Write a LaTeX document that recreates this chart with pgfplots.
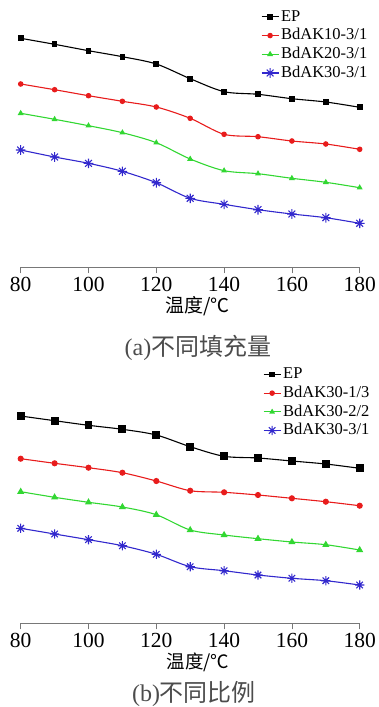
\documentclass[border=0pt]{standalone}
\usepackage{pgfplots}
\pgfplotsset{compat=1.18}
\usepackage{fontspec}
\setmainfont{Liberation Serif}
\newfontfamily\cjk{Noto Sans CJK SC}
\definecolor{cred}{RGB}{232,28,28}
\definecolor{cgreen}{RGB}{50,215,50}
\definecolor{cblue}{RGB}{50,40,205}
\definecolor{axgray}{RGB}{120,120,120}
\pgfdeclareplotmark{ast8}{%
 \pgfpathmoveto{\pgfpoint{0pt}{\pgfplotmarksize}}\pgfpathlineto{\pgfpoint{0pt}{-\pgfplotmarksize}}%
 \pgfpathmoveto{\pgfpoint{\pgfplotmarksize}{0pt}}\pgfpathlineto{\pgfpoint{-\pgfplotmarksize}{0pt}}%
 \pgfpathmoveto{\pgfpoint{0.707\pgfplotmarksize}{0.707\pgfplotmarksize}}\pgfpathlineto{\pgfpoint{-0.707\pgfplotmarksize}{-0.707\pgfplotmarksize}}%
 \pgfpathmoveto{\pgfpoint{-0.707\pgfplotmarksize}{0.707\pgfplotmarksize}}\pgfpathlineto{\pgfpoint{0.707\pgfplotmarksize}{-0.707\pgfplotmarksize}}%
 \pgfusepathqstroke}
\pgfplotsset{
 panel/.style={
  x={(3.39pt,0)}, y={(0,1pt)},
  xmin=80, xmax=180, ymin=0,
  axis x line*=bottom, axis y line=none,
  xtick={80,100,...,180},
  tick align=outside, major tick length=6pt,
  x axis line style={axgray, line width=0.8pt, -},
  xtick style={axgray, line width=0.8pt},
  /pgf/number format/assume math mode=true,
  xticklabel style={font=\fontsize{21.5}{21.5}\selectfont, text=black},
  clip=false,
  legend style={draw=none, fill=none, inner sep=0pt, outer sep=0pt, anchor=north west,
    row sep=3.2pt,
    nodes={inner sep=0pt, text height=12pt, text depth=3.5pt, font=\fontsize{16.5}{16.5}\selectfont}},
  legend cell align=left,
  legend image code/.code={\draw[mark repeat=2,mark phase=2] plot coordinates {(0pt,0pt)(8.5pt,0pt)(17pt,0pt)};},
  /tikz/every odd column/.append style={column sep=2pt},
 },
 ln/.style={line width=1.1pt, smooth, tension=0.5},
}
\begin{document}
\begin{tikzpicture}
\path[use as bounding box] (0pt,0pt) rectangle (378pt,-707pt);
% ---------- panel (a)
\begin{axis}[panel, ymax=267, at={(20.7pt,-267.3pt)}, anchor=south west,
  legend style={at={(axis cs:150.9,258.2)}}]
\addplot[ln, black, mark=square*, mark size=2.3pt] coordinates {
(80,229.0)(90,223.0)(100,216.6)(110,210.6)(120,203.3)(130,188.6)(140,175.6)(150,173.0)(160,168.6)(170,165.3)(180,160.0)};
\addlegendentry{EP}
\addplot[ln, cred, mark=*, mark size=2.2pt] coordinates {
(80,183.3)(90,177.6)(100,171.6)(110,166.0)(120,160.3)(130,149.0)(140,133.0)(150,130.6)(160,126.3)(170,123.3)(180,118.0)};
\addlegendentry{BdAK10-3/1}
\addplot[ln, cgreen, mark=triangle*, mark size=2.4pt] coordinates {
(80,154.0)(90,148.0)(100,141.6)(110,134.6)(120,124.6)(130,108.3)(140,96.6)(150,93.6)(160,89.0)(170,85.0)(180,79.6)};
\addlegendentry{BdAK20-3/1}
\addplot[ln, cblue, mark=ast8, mark size=4.8pt, mark options={line width=1.1pt}] coordinates {
(80,117.3)(90,110.3)(100,104.0)(110,96.0)(120,84.6)(130,69.0)(140,63.0)(150,57.6)(160,53.3)(170,49.6)(180,44.0)};
\addlegendentry{BdAK30-3/1}
\end{axis}
\node[font=\cjk\fontsize{19}{19}\selectfont] at (197.5pt,-306pt) {温度/℃};
\node[font=\fontsize{24}{24}\selectfont, text=black!70] at (198pt,-348pt) {(a){\cjk 不同填充量}};
% ---------- panel (b)
\begin{axis}[panel, ymax=263, at={(20.7pt,-623.3pt)}, anchor=south west,
  legend style={at={(axis cs:151.5,256.6)}}]
\addplot[ln, black, mark=square*, mark size=3.4pt, legend image post style={mark size=2.3pt}] coordinates {
(80,207.3)(90,202.6)(100,198.0)(110,194.0)(120,188.3)(130,176.6)(140,167.0)(150,165.3)(160,162.3)(170,159.3)(180,155.0)};
\addlegendentry{EP}
\addplot[ln, cred, mark=*, mark size=2.5pt, legend image post style={mark size=2.2pt}] coordinates {
(80,164.6)(90,160.0)(100,155.6)(110,150.6)(120,142.3)(130,132.6)(140,131.0)(150,128.3)(160,125.0)(170,121.6)(180,117.6)};
\addlegendentry{BdAK30-1/3}
\addplot[ln, cgreen, mark=triangle*, mark size=3pt, legend image post style={mark size=2.2pt}] coordinates {
(80,131.6)(90,126.0)(100,121.0)(110,116.3)(120,108.6)(130,93.3)(140,88.3)(150,84.6)(160,81.3)(170,78.6)(180,73.3)};
\addlegendentry{BdAK30-2/2}
\addplot[ln, cblue, mark=ast8, mark size=4.6pt, mark options={line width=1.1pt}] coordinates {
(80,95.0)(90,89.3)(100,83.6)(110,77.6)(120,69.0)(130,56.6)(140,52.6)(150,48.3)(160,45.0)(170,42.6)(180,38.3)};
\addlegendentry{BdAK30-3/1}
\end{axis}
\node[font=\cjk\fontsize{18.5}{18.5}\selectfont] at (198pt,-662pt) {温度/℃};
\node[font=\fontsize{24}{24}\selectfont, text=black!70] at (194pt,-694pt) {(b){\cjk 不同比例}};
\end{tikzpicture}
\end{document}
